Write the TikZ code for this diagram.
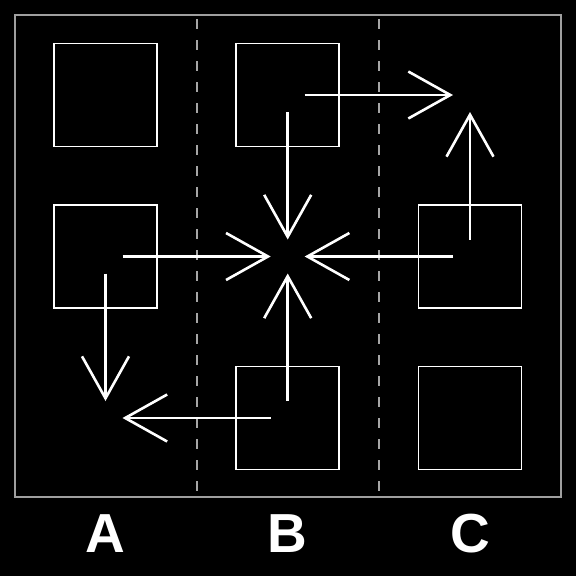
\documentclass[tikz,border=0pt]{standalone}
\usepackage{fontspec}
\setmainfont{Liberation Sans}
\usetikzlibrary{arrows.meta,positioning}

\begin{document}
\begin{tikzpicture}[x=1pt,y=-1pt,
  cell/.style={draw=white,line width=1.6pt,minimum size=103pt,inner sep=0pt},
  arr/.style={white,line width=2.6pt,shorten <=17pt,shorten >=17pt,-{Straight Barb[length=42pt,width=47pt]}},
  colname/.style={text=white,font=\bfseries\fontsize{55}{55}\selectfont,anchor=base},
  guide/.style={gray!70,line width=1.3pt,dash pattern=on 10pt off 11pt,dash phase=17pt}]
\fill[black] (0,0) rectangle (576,576);
\useasboundingbox (0,0) rectangle (576,576);
\draw[gray!75,line width=1.2pt] (15,15) rectangle (561,497);
\coordinate (ab top) at (197,15); \coordinate (ab bot) at (197,497);
\coordinate (bc top) at (379,15); \coordinate (bc bot) at (379,497);
\draw[guide] (ab top)--(ab bot);
\draw[guide] (bc top)--(bc bot);
\node[cell] (a1) at (105.5,95) {};
\node[cell] (a2) at (105.5,256.5) {};
\coordinate (a3) at (105.5,418);
\node[cell] (b1) at (287.7,95) {};
\coordinate (b2) at (287.7,256.5);
\node[cell] (b3) at (287.7,418) {};
\coordinate (c1) at (470,95);
\node[cell] (c2) at (470,256.5) {};
\node[cell] (c3) at (470,418) {};
\draw[arr] (b1.center)--(c1);
\draw[arr] (b1.center)--(b2);
\draw[arr] (c2.center)--(c1);
\draw[arr] (c2.center)--(b2);
\draw[arr] (a2.center)--(b2);
\draw[arr] (a2.center)--(a3);
\draw[arr] (b3.center)--(b2);
\draw[arr] (b3.center)--(a3);
\node[colname] (la) at (105.5,552) {A};
\node[colname] (lb) at (287.7,552) {B};
\node[colname] (lc) at (470,552) {C};
\end{tikzpicture}
\end{document}
